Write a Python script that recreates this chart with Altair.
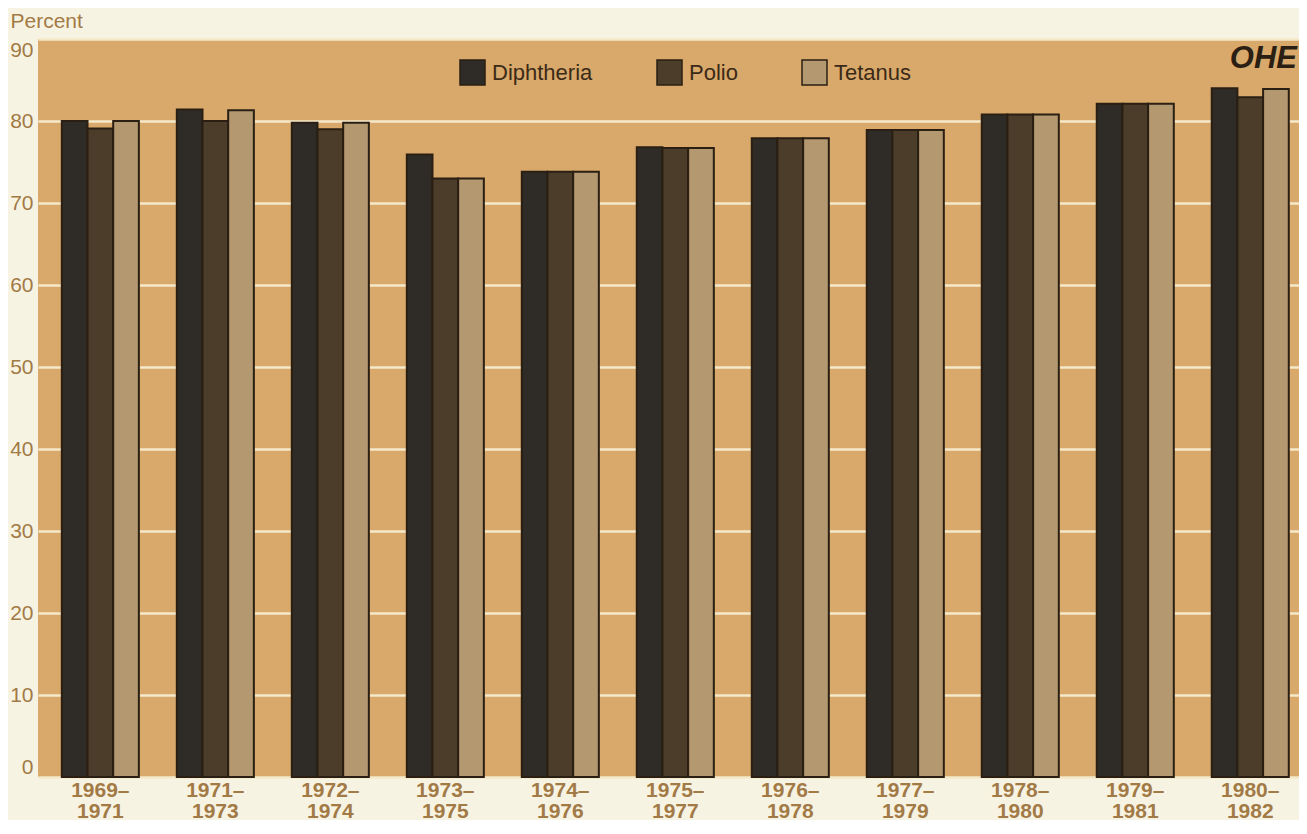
import altair as alt
import pandas as pd

periods = ["1969–1971", "1971–1973", "1972–1974", "1973–1975", "1974–1976",
           "1975–1977", "1976–1978", "1977–1979", "1978–1980", "1979–1981", "1980–1982"]
diseases = ["Diphtheria", "Polio", "Tetanus"]
diphtheria = [80.0, 81.4, 79.8, 75.9, 73.8, 76.8, 77.9, 78.9, 80.8, 82.1, 84.0]
polio = [79.1, 80.0, 79.0, 73.0, 73.8, 76.7, 77.9, 78.9, 80.8, 82.1, 82.9]
tetanus = [80.0, 81.3, 79.8, 73.0, 73.8, 76.7, 77.9, 78.9, 80.8, 82.1, 83.9]
colors = ["#2f2c27", "#4c3d2a", "#b39870"]
y_ticks = [0, 10, 20, 30, 40, 50, 60, 70, 80, 90]

rows = []
for i, p in enumerate(periods):
    for d, vals in zip(diseases, [diphtheria, polio, tetanus]):
        rows.append({"period": p, "disease": d, "value": vals[i]})
df = pd.DataFrame(rows)

axis_color = "#a27a46"

bars = alt.Chart(df).mark_bar(stroke="#2a1f12", strokeWidth=2).encode(
    x=alt.X("period:N", sort=periods,
            scale=alt.Scale(paddingInner=0.33, paddingOuter=0.148, align=0.7),
            axis=alt.Axis(title=None, labelAngle=0, domain=False, ticks=False,
                          labelExpr="[slice(datum.label, 0, 5), slice(datum.label, 5)]",
                          labelFontSize=21, labelFontWeight="bold", labelColor=axis_color,
                          labelPadding=2, labelLineHeight=21, labelBaseline="top")),
    xOffset=alt.XOffset("disease:N", sort=diseases,
                        scale=alt.Scale(paddingInner=0, paddingOuter=0)),
    y=alt.Y("value:Q", scale=alt.Scale(domain=[0, 90], nice=False),
            axis=alt.Axis(values=y_ticks, title="Percent", titleAngle=0,
                          titleX=-28, titleY=-18, titleAlign="left", titleBaseline="middle",
                          titleFontSize=21, titleFontWeight="normal", titleColor=axis_color,
                          labelFontSize=21, labelColor=axis_color, labelFlush=True,
                          labelPadding=5, domain=False, ticks=False,
                          gridColor="#f4e9c9", gridWidth=2.5, gridOpacity=1)),
    color=alt.Color("disease:N", sort=diseases,
                    scale=alt.Scale(domain=diseases, range=colors),
                    legend=alt.Legend(title=None, orient="none", legendX=421, legendY=20,
                                      direction="horizontal", symbolType="square",
                                      symbolSize=625, symbolStrokeColor="#2a1f12",
                                      symbolStrokeWidth=1.5, symbolOpacity=1,
                                      labelFontSize=22, labelColor="#3b2a17",
                                      labelOffset=6, columnPadding=61)),
)

logo = alt.Chart(pd.DataFrame({"t": ["OHE"]})).mark_text(
    align="right", baseline="middle", fontSize=31, fontStyle="italic", fontWeight="bold",
    color="#2a1f12", font="Liberation Sans"
).encode(text="t:N", x=alt.value(1259), y=alt.value(20))

chart = alt.layer(bars, logo).properties(
    width=1261, height=738,
    padding={"left": 30, "top": 31, "right": 0, "bottom": 43},
    autosize=alt.AutoSizeParams(type="none"),
    background="#f7f3e3",
).configure(font="Liberation Sans").configure_view(fill="#d8a96b", stroke=None)

chart.save("out.html", embed_options={"renderer": "svg", "actions": False})
